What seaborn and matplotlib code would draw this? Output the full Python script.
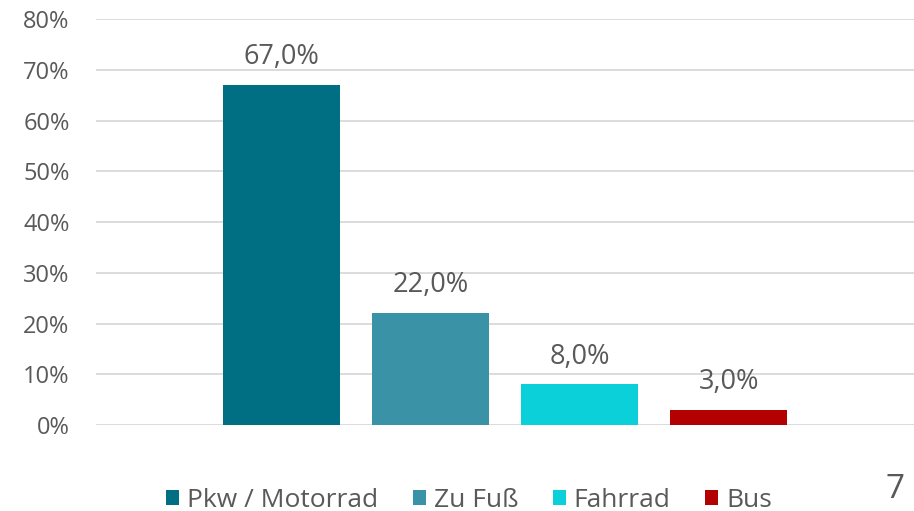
import pandas as pd
import matplotlib.pyplot as plt
import seaborn as sns
from matplotlib.ticker import FuncFormatter

modes = ["Pkw / Motorrad", "Zu Fuß", "Fahrrad", "Bus"]
shares = [67.0, 22.0, 8.0, 3.0]
colors = ["#006F83", "#3A92A7", "#0BCFD9", "#B30000"]
y_ticks = [0, 10, 20, 30, 40, 50, 60, 70, 80]
page_no = "7"

df = pd.DataFrame({"group": [""] * len(modes), "mode": modes, "share": shares})

sns.set_theme(style="white")
plt.rcParams["font.family"] = ["Open Sans", "DejaVu Sans"]
text_color = "#595959"

fig = plt.figure(figsize=(9.14, 5.11), dpi=100)
ax = fig.add_axes([96 / 914, (511 - 425) / 511, 1 - 96 / 914, (425 - 19) / 511])

sns.barplot(data=df, x="group", y="share", hue="mode", hue_order=modes,
            palette=colors, width=0.729, gap=0.215, dodge=True, ax=ax,
            saturation=1, legend=True, linewidth=0, edgecolor="none")

handles, labels = ax.get_legend_handles_labels()
ax.legend_.remove()

for cont in ax.containers:
    vals = [b.get_height() for b in cont]
    ax.bar_label(cont, labels=[f"{v:.1f}%".replace(".", ",") for v in vals],
                 padding=10, fontsize=19.5, color=text_color)

ax.set_xlim(-0.5, 0.5)
ax.set_ylim(0, 80)
ax.set_yticks(y_ticks)
ax.yaxis.set_major_formatter(FuncFormatter(lambda v, p: f"{int(v)}%"))
ax.tick_params(axis="y", length=0, pad=19, labelsize=17, labelcolor=text_color)
ax.set_xticks([])
ax.set_xlabel("")
ax.set_ylabel("")
ax.grid(axis="y", color="#d9d9d9", linewidth=1.3)
ax.set_axisbelow(True)
sns.despine(ax=ax, left=True, bottom=True)

fig.legend(handles, labels, loc="center", bbox_to_anchor=(469 / 914, 11 / 511),
           ncol=4, frameon=False, fontsize=19, labelcolor=text_color,
           handlelength=0.5, handleheight=0.5, handletextpad=0.3,
           columnspacing=1.3, borderaxespad=0)

fig.text(895 / 914, 22 / 511, page_no, ha="center", va="center",
         fontsize=24, color=text_color)

fig.savefig("out.png", dpi=100)
plt.close(fig)
